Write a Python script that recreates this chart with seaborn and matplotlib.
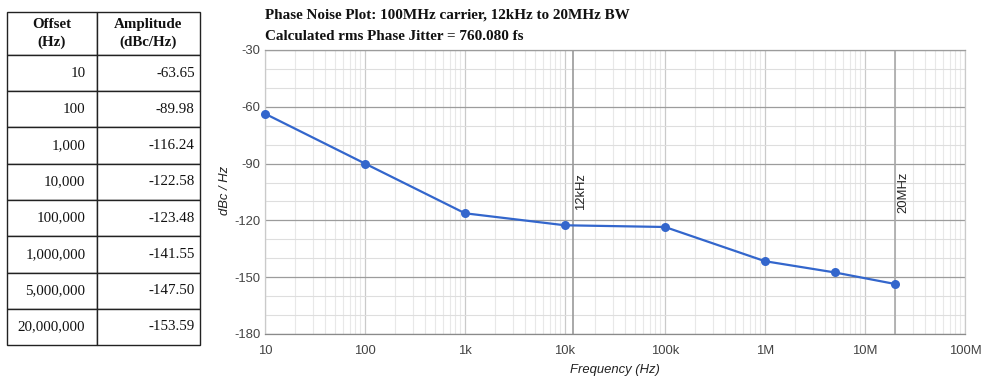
import numpy as np
import pandas as pd
import matplotlib
matplotlib.use("Agg")
import matplotlib.pyplot as plt
import matplotlib.transforms as mtransforms
from matplotlib.ticker import FixedLocator, MultipleLocator, LogLocator, NullFormatter
import seaborn as sns

# ---------------- data ----------------
offset_hz = [10, 100, 1000, 10000, 100000, 1000000, 5000000, 20000000]
amplitude = [-63.65, -89.98, -116.24, -122.58, -123.48, -141.55, -147.50, -153.59]
offset_labels = ["10", "100", "1,000", "10,000", "100,000", "1,000,000", "5,000,000", "20,000,000"]
amp_labels = ["-63.65", "-89.98", "-116.24", "-122.58", "-123.48", "-141.55", "-147.50", "-153.59"]
table_headers = ["Offset\n(Hz)", "Amplitude\n(dBc/Hz)"]
x_ticks = [10, 100, 1000, 10000, 100000, 1000000, 10000000, 100000000]
x_tick_labels = ["10", "100", "1k", "10k", "100k", "1M", "10M", "100M"]
y_ticks = [-180, -150, -120, -90, -60, -30]
band_edges_hz = [12000, 20000000]
band_labels = ["12kHz", "20MHz"]
title_lines = ["Phase Noise Plot: 100MHz carrier, 12kHz to 20MHz BW",
               "Calculated rms Phase Jitter = 760.080 fs"]

# ---------------- style ----------------
sns.set_theme(style="white")
plt.rcParams['font.family'] = ['Liberation Sans', 'DejaVu Sans']
plt.rcParams['axes.unicode_minus'] = False

W, H = 981, 381
fig = plt.figure(figsize=(W / 100, H / 100), dpi=100)

# ---------------- chart ----------------
ax = fig.add_axes([265 / W, 1 - 334 / H, 700 / W, 284 / H])
df = pd.DataFrame({"Frequency": offset_hz, "Amplitude": amplitude})
sns.lineplot(data=df, x="Frequency", y="Amplitude", ax=ax, color="#3366cc",
             linewidth=1.6, marker="o", markersize=6.5, markeredgewidth=0, zorder=5,
             clip_on=False)
ax.set_xscale("log")
ax.set_xlim(10, 1e8)
ax.set_ylim(-180, -30)

ax.xaxis.set_major_locator(FixedLocator(x_ticks))
ax.set_xticklabels(x_tick_labels)
ax.xaxis.set_minor_locator(LogLocator(base=10, subs=np.arange(2, 10)))
ax.xaxis.set_minor_formatter(NullFormatter())
ax.yaxis.set_major_locator(FixedLocator(y_ticks))
ax.yaxis.set_minor_locator(MultipleLocator(10))

ax.set_axisbelow(True)
ax.yaxis.grid(True, which="major", color="#9c9c9c", linewidth=0.9)
ax.yaxis.grid(True, which="minor", color="#dedede", linewidth=0.8)
ax.xaxis.grid(True, which="major", color="#cacaca", linewidth=0.9)
ax.xaxis.grid(True, which="minor", color="#e8e8e8", linewidth=0.8)

for side, col in [("top", "#9c9c9c"), ("bottom", "#8a8a8a"), ("left", "#cacaca"), ("right", "#cacaca")]:
    ax.spines[side].set_visible(True)
    ax.spines[side].set_color(col)
    ax.spines[side].set_linewidth(0.9)

ax.tick_params(axis="both", which="both", length=0, labelsize=9.4, labelcolor="#444444")
ax.tick_params(axis="x", pad=8)
ax.tick_params(axis="y", pad=3.5)
ax.set_xlabel("")
ax.set_ylabel("")

line_colors = ["#9a9a9a", "#a8a8a8"]
txt_tr = mtransforms.offset_copy(ax.transData, fig=fig, x=8, y=0, units="dots")
for f, lab, lc in zip(band_edges_hz, band_labels, line_colors):
    ax.axvline(f, color=lc, linewidth=1.2, zorder=2)
    ax.text(f, -105, lab, rotation=90, ha="center", va="center", fontsize=9.4,
            color="#222222", transform=txt_tr, zorder=6)

fig.text(225 / W, 1 - 190 / H, "dBc / Hz", rotation=90, ha="center", va="center",
         fontsize=9.4, style="italic", color="#222222")
fig.text(615 / W, 1 - 370 / H, "Frequency (Hz)", ha="center", va="center",
         fontsize=9.4, style="italic", color="#222222")

for i, t in enumerate(title_lines):
    fig.text(265 / W, 1 - (15 + 21 * i) / H, t, ha="left", va="center",
             fontsize=10.9, fontweight="bold", family=["Liberation Serif", "DejaVu Serif"],
             color="#111111")

# ---------------- table ----------------
ax_t = fig.add_axes([7 / W, 1 - 345 / H, 193 / W, 333 / H])
ax_t.axis("off")
tbl = ax_t.table(cellText=[list(r) for r in zip(offset_labels, amp_labels)],
                 colLabels=table_headers, cellLoc="right", colLoc="center",
                 colWidths=[90 / 193, 103 / 193], bbox=[0, 0, 1, 1])
tbl.auto_set_font_size(False)
for (r, c), cell in tbl.get_celld().items():
    cell.set_height(43 if r == 0 else 36.25)
    cell.set_edgecolor("#222222")
    cell.set_linewidth(1.0)
    txt = cell.get_text()
    txt.set_fontfamily(["Liberation Serif", "DejaVu Serif"])
    txt.set_fontsize(10.8)
    txt.set_color("#111111")
    if r == 0:
        txt.set_fontweight("bold")
        txt.set_linespacing(1.4)
    else:
        cell.PAD = 0.13 if c == 0 else 0.05

fig.savefig("out.png", dpi=100)
